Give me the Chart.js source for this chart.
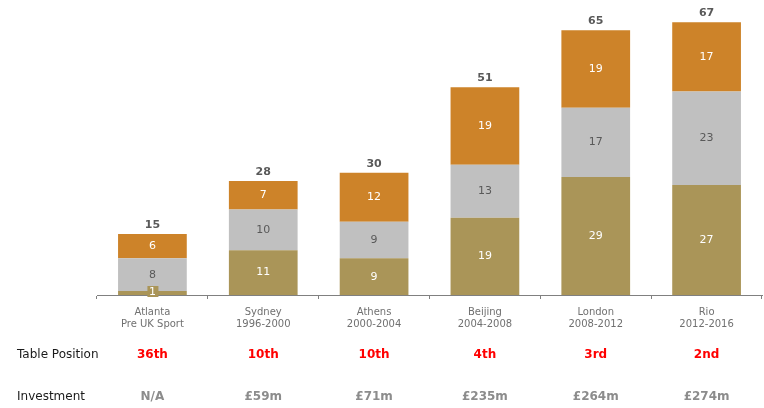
<!DOCTYPE html>
<html>
<head>
<meta charset="utf-8">
<script src="https://cdn.jsdelivr.net/npm/chart.js@4"></script>
<style>
  html, body { margin: 0; padding: 0; background: #fff; }
  #wrap { width: 764px; height: 408px; position: relative; }
</style>
</head>
<body>
<div id="wrap"><canvas id="medalChart"></canvas></div>
<script>
const games = [['Atlanta', 'Pre UK Sport'], ['Sydney', '1996-2000'], ['Athens', '2000-2004'],
               ['Beijing', '2004-2008'], ['London', '2008-2012'], ['Rio', '2012-2016']];
const gold = [1, 11, 9, 19, 29, 27];
const silver = [8, 10, 9, 13, 17, 23];
const bronze = [6, 7, 12, 19, 19, 17];
const tablePosition = ['36th', '10th', '10th', '4th', '3rd', '2nd'];
const investment = ['N/A', '£59m', '£71m', '£235m', '£264m', '£274m'];

const FONT = 'Verdana, "DejaVu Sans", sans-serif';

// segment labels, totals and the two rows of text under the axis
const labelsPlugin = {
    id: 'labels',
    afterDatasetsDraw(chart) {
        const c = chart.ctx;
        const x = chart.scales.x;
        c.save();
        c.textAlign = 'center';
        c.textBaseline = 'middle';
        c.font = '11px ' + FONT;
        chart.data.datasets.forEach((ds, i) => {
            chart.getDatasetMeta(i).data.forEach((bar, j) => {
                const v = ds.data[j];
                const top = bar.y, bot = bar.base;
                let y = (top + bot) / 2;
                if (bot - top < 12) {
                    // tiny segment: draw label on a small box
                    y = bot - 3;
                    c.fillStyle = ds.backgroundColor;
                    c.fillRect(bar.x - 5, y - 6, 11, 11);
                }
                c.fillStyle = ds.labelColor;
                c.fillText(v, bar.x, y);
            });
        });
        // totals
        const last = chart.getDatasetMeta(chart.data.datasets.length - 1).data;
        c.font = 'bold 11px ' + FONT;
        c.fillStyle = '#595959';
        last.forEach((bar, j) => {
            const total = gold[j] + silver[j] + bronze[j];
            c.fillText(total, bar.x, bar.y - 9);
        });
        // table rows
        c.textAlign = 'left';
        c.font = '12px ' + FONT;
        c.fillStyle = '#1a1a1a';
        c.fillText('Table Position', 17, 355);
        c.fillText('Investment', 17, 397);
        c.textAlign = 'center';
        c.font = 'bold 12px ' + FONT;
        tablePosition.forEach((t, j) => {
            c.fillStyle = '#ff0000';
            c.fillText(t, x.getPixelForValue(j), 355);
        });
        investment.forEach((t, j) => {
            c.fillStyle = '#8c8c8c';
            c.fillText(t, x.getPixelForValue(j), 397);
        });
        c.restore();
    }
};

new Chart(document.getElementById('medalChart'), {
    type: 'bar',
    data: {
        labels: games,
        datasets: [
            { label: 'Gold', data: gold, backgroundColor: '#aa9558', labelColor: '#ffffff' },
            { label: 'Silver', data: silver, backgroundColor: '#c0c0c0', labelColor: '#595959' },
            { label: 'Bronze', data: bronze, backgroundColor: '#cd8329', labelColor: '#ffffff' }
        ]
    },
    options: {
        responsive: true,
        maintainAspectRatio: false,
        animation: false,
        layout: { padding: { left: 97, right: 2, top: 10, bottom: 71 } },
        datasets: { bar: { categoryPercentage: 0.62, barPercentage: 1 } },
        plugins: {
            legend: { display: false },
            tooltip: { enabled: false }
        },
        scales: {
            x: {
                stacked: true,
                grid: { display: true, drawOnChartArea: false, drawTicks: true, tickLength: 4, color: '#808080' },
                border: { display: true, color: '#808080', width: 1 },
                ticks: { color: '#707070', font: { family: FONT, size: 10 }, padding: 7 }
            },
            y: {
                stacked: true,
                display: false,
                min: 0,
                max: 70
            }
        }
    },
    plugins: [labelsPlugin]
});
</script>
</body>
</html>
